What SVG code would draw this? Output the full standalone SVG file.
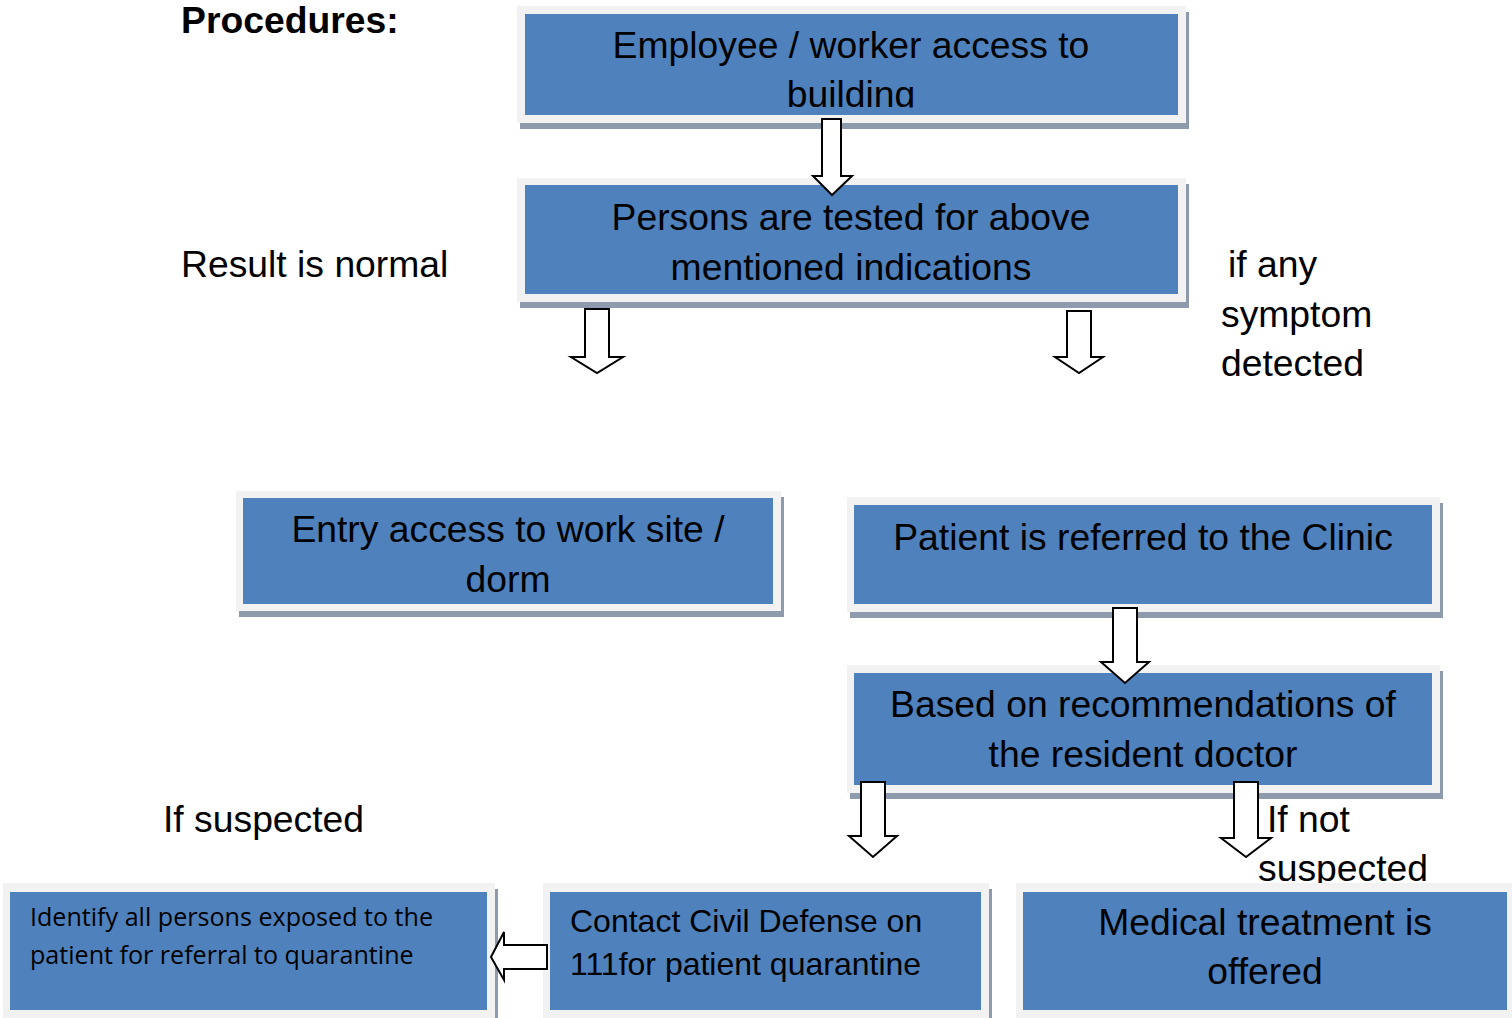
<svg xmlns="http://www.w3.org/2000/svg" width="1512" height="1018" viewBox="0 0 1512 1018">
<style>
.sh{fill:#8e9bac}
.fr{fill:#f2f2f2}
.bx{fill:#4f81bd}
.t{font-family:"Liberation Sans",Arial,sans-serif;font-size:37.3px;fill:#000}
.c{text-anchor:middle}
.s{font-family:"Open Sans","Noto Sans",sans-serif;font-size:25.1px;fill:#000}
.ar{fill:#fff;stroke:#000;stroke-width:2;stroke-linejoin:miter}
</style>
<defs>
<clipPath id="clip1"><rect x="525" y="14" width="653" height="93.5"/></clipPath>
</defs>
<rect width="1512" height="1018" fill="#fff"/>
<text class="t" x="181" y="33" style="font-weight:bold">Procedures:</text>
<text class="t" x="181" y="277">Result is normal</text>
<text class="t" x="1228" y="277">if any</text>
<text class="t" x="1221" y="327">symptom</text>
<text class="t" x="1221" y="376">detected</text>
<text class="t" x="163" y="832">If suspected</text>
<text class="t" x="1267" y="832">If not</text>
<text class="t" x="1258" y="881">suspected</text>

<g id="node-employee">
<rect class="sh" x="520" y="12" width="669" height="117"/>
<rect class="fr" x="517" y="6" width="669" height="117"/>
<rect class="bx" x="525" y="14" width="653" height="101"/>
<g clip-path="url(#clip1)">
<text class="t c" x="851" y="58">Employee / worker access to</text>
<text class="t c" x="851" y="107">building</text>
</g>
</g>
<g id="node-tested">
<rect class="sh" x="520" y="184" width="669" height="124"/>
<rect class="fr" x="517" y="178" width="669" height="124"/>
<rect class="bx" x="525" y="185" width="653" height="109"/>
<text class="t c" x="851" y="230">Persons are tested for above</text>
<text class="t c" x="851" y="280">mentioned indications</text>
</g>
<g id="node-entry">
<rect class="sh" x="239" y="497" width="545" height="120"/>
<rect class="fr" x="236" y="491" width="545" height="120"/>
<rect class="bx" x="243" y="498" width="530" height="106"/>
<text class="t c" x="508" y="542">Entry access to work site /</text>
<text class="t c" x="508" y="592">dorm</text>
</g>
<g id="node-clinic">
<rect class="sh" x="850" y="503" width="593" height="115"/>
<rect class="fr" x="847" y="497" width="593" height="115"/>
<rect class="bx" x="854" y="505" width="578" height="99"/>
<text class="t c" x="1143" y="550">Patient is referred to the Clinic</text>
</g>
<g id="node-doctor">
<rect class="sh" x="850" y="671" width="593" height="128"/>
<rect class="fr" x="847" y="665" width="593" height="128"/>
<rect class="bx" x="854" y="673" width="578" height="112"/>
<text class="t c" x="1143" y="717">Based on recommendations of</text>
<text class="t c" x="1143" y="767">the resident doctor</text>
</g>
<g id="node-identify">
<rect class="sh" x="6" y="889" width="492" height="140"/>
<rect class="fr" x="3" y="883" width="492" height="140"/>
<rect class="bx" x="10" y="892" width="477" height="118"/>
<text class="s" x="30" y="926">Identify all persons exposed to the</text>
<text class="s" x="30" y="964">patient for referral to quarantine</text>
</g>
<g id="node-civil">
<rect class="sh" x="546" y="889" width="446" height="140"/>
<rect class="fr" x="543" y="883" width="446" height="140"/>
<rect class="bx" x="550" y="892" width="431" height="118"/>
<text class="t" x="570" y="932" style="font-size:32px">Contact Civil Defense on</text>
<text class="t" x="570" y="975" style="font-size:32px">111for patient quarantine</text>
</g>
<g id="node-medical">
<rect class="sh" x="1019" y="889" width="500" height="140"/>
<rect class="fr" x="1016" y="883" width="500" height="140"/>
<rect class="bx" x="1023" y="892" width="484" height="118"/>
<text class="t c" x="1265" y="935">Medical treatment is</text>
<text class="t c" x="1265" y="984">offered</text>
</g>

<g id="connectors">
<path class="ar" d="M822,119 H841 V176 H852 L832,195 L813,176 H822 Z"/>
<path class="ar" d="M585,309 H609 V357 H623 L597,373 L571,357 H585 Z"/>
<path class="ar" d="M1067,311 H1091 V357 H1103 L1079,373 L1055,357 H1067 Z"/>
<path class="ar" d="M1113,608 H1137 V662 H1149 L1125,683 L1101,662 H1113 Z"/>
<path class="ar" d="M861,782 H885 V836 H897 L873,857 L849,836 H861 Z"/>
<path class="ar" d="M1234,782 H1258 V838 H1271 L1246,857 L1221,838 H1234 Z"/>
<path class="ar" d="M547,945 V969 H504 V980 L491,957 L504,932 V945 Z"/>
</g>
</svg>
